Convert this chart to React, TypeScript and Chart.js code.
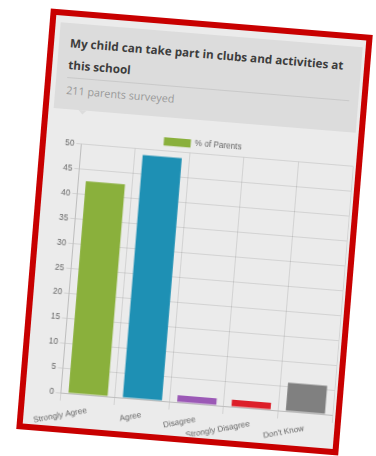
import React, { useEffect, useRef } from "react";
import { Chart, registerables } from "chart.js";

Chart.register(...registerables);

// ---- data ----
const categories = ["Strongly Agree", "Agree", "Disagree", "Strongly Disagree", "Don't Know"];
const percentParents = [42.65, 48.82, 1.42, 1.42, 5.69];
const seriesLabel = "% of Parents";
const yMin = 0;
const yMax = 50;
const yStep = 5;
const titleLine1 = "My child can take part in clubs and activities at";
const titleLine2 = "this school";
const subtitle = "211 parents surveyed";

// ---- styles ----
const barColors = ["#8ab03c", "#1e90b4", "#9b59b6", "#dc1e28", "#808080"];
const FONT = "'Liberation Sans', Arial, sans-serif";

export default function App() {
  const canvasRef = useRef<HTMLCanvasElement | null>(null);

  useEffect(() => {
    const canvas = canvasRef.current;
    if (!canvas) return;
    Chart.defaults.font.family = FONT;
    const chart = new Chart(canvas, {
      type: "bar",
      data: {
        labels: categories,
        datasets: [
          {
            label: seriesLabel,
            data: percentParents,
            backgroundColor: barColors,
            borderWidth: 0,
          },
        ],
      },
      options: {
        animation: false,
        responsive: false,
        devicePixelRatio: 1,
        layout: { padding: { top: 0, right: 1, bottom: 0, left: 0 } },
        plugins: {
          legend: {
            position: "top",
            maxHeight: 20.6,
            labels: {
              boxWidth: 27,
              padding: 7,
              color: "#666",
              font: { size: 8.2, family: FONT },
            },
          },
          tooltip: { enabled: false },
        },
        scales: {
          x: {
            grid: { color: "rgba(0,0,0,0.1)", tickLength: 8 },
            border: { color: "rgba(0,0,0,0.1)" },
            ticks: {
              color: "#666",
              font: { size: 8.2, family: FONT },
              minRotation: 15,
              maxRotation: 15,
              padding: 3,
            },
            afterFit: (s: any) => {
              s.height = 33;
            },
          },
          y: {
            min: yMin,
            max: yMax,
            grid: { color: "rgba(0,0,0,0.1)", tickLength: 5 },
            border: { color: "rgba(0,0,0,0.1)" },
            ticks: {
              stepSize: yStep,
              color: "#666",
              padding: 2,
              font: { size: 8.2, family: FONT },
            },
            afterFit: (s: any) => {
              s.width = 24;
            },
          },
        },
      },
    });
    return () => chart.destroy();
  }, []);

  return (
    <div style={{ position: "fixed", left: 0, top: 0, width: 376, height: 456, background: "#fff", overflow: "hidden" }}>
      <div
        style={{
          position: "absolute",
          left: 33.35,
          top: 21.25,
          width: 323,
          height: 422,
          background: "#c80000",
          transform: "rotate(4.7deg)",
          transformOrigin: "50% 50%",
        }}
      >
        <div style={{ position: "absolute", left: 6, top: 6, width: 311, height: 410, background: "#ebebeb" }} />
        <div style={{ position: "absolute", left: 11, top: 12.5, width: 303, height: 86, background: "#dcdcdc" }} />
        <div
          style={{
            position: "absolute",
            left: 36,
            top: 98.5,
            width: 0,
            height: 0,
            borderLeft: "4px solid transparent",
            borderRight: "4px solid transparent",
            borderTop: "4px solid #dcdcdc",
          }}
        />
        <div
          style={{
            position: "absolute",
            left: 22,
            top: 22.1,
            fontFamily: "'Open Sans', sans-serif",
            fontWeight: 700,
            fontSize: 11.7,
            lineHeight: "21.6px",
            color: "#3d3d3d",
            whiteSpace: "nowrap",
          }}
        >
          {titleLine1}
          <br />
          {titleLine2}
        </div>
        <div style={{ position: "absolute", left: 22, top: 66.5, width: 283, height: 1, background: "#c9c9c9" }} />
        <div
          style={{
            position: "absolute",
            left: 22,
            top: 72.8,
            fontFamily: "'Open Sans', sans-serif",
            fontWeight: 400,
            fontSize: 10.8,
            lineHeight: "14px",
            color: "#999",
            whiteSpace: "nowrap",
          }}
        >
          {subtitle}
        </div>
        <canvas
          ref={canvasRef}
          width={304}
          height={303}
          style={{ position: "absolute", left: 11, top: 112.2, width: 304, height: 303 }}
        />
      </div>
    </div>
  );
}
